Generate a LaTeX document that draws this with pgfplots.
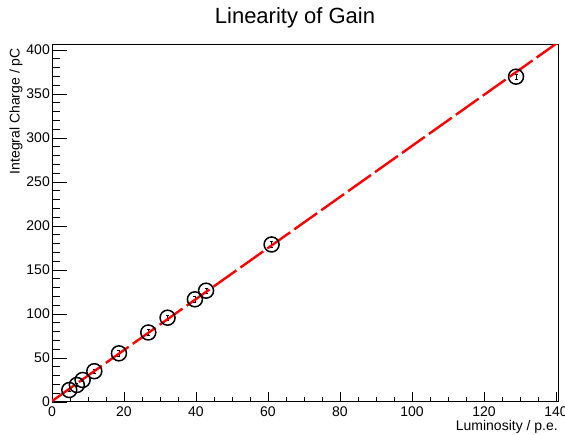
\documentclass[border=0pt]{standalone}
\usepackage{fontspec}
\setmainfont{Liberation Sans}
\usepackage{pgfplots}
\pgfplotsset{compat=1.18}

\pgfplotstableread{
x      y      ey
4.8    13.6   2.0
6.9    19.3   2.0
8.5    25.0   2.0
11.75  35.0   2.5
18.6   55.3   3.0
26.75  79.0   3.0
32.1   95.8   3.0
39.7   116.7  3.0
42.8   126.5  3.0
61.0   179.0  3.0
128.9  369.7  3.0
}\gaindata

\begin{document}
\begin{tikzpicture}[x=1pt,y=1pt]
\path[use as bounding box] (0,0) rectangle (565,435);
\begin{axis}[
    at={(52pt,33pt)}, anchor=south west,
    scale only axis,
    width=506.5pt, height=357pt,
    xmin=0, xmax=140.7,
    ymin=0, ymax=405.7,
    xtick={0,20,...,140},
    ytick={0,50,...,400},
    minor x tick num=3,
    minor y tick num=4,
    xtick pos=bottom, ytick pos=left,
    tick align=inside,
    axis line style={black, line width=1pt},
    every tick/.style={black, line width=0.8pt},
    xtick style={/pgfplots/major tick length=10pt, /pgfplots/minor tick length=5pt},
    ytick style={/pgfplots/major tick length=15pt, /pgfplots/minor tick length=8pt},
    ticklabel style={font=\fontsize{14}{16}\selectfont},
    /pgf/number format/assume math mode=true,
    yticklabel style={inner sep=1pt, xshift=-1pt},
    xticklabel style={inner sep=1pt, yshift=-4pt},
    clip=true,
]
\addplot[black, only marks, mark=o, mark size=7.5pt,
    mark options={line width=1.5pt},
    error bars/.cd, y dir=both, y explicit,
    error bar style={line width=0.8pt},
    error mark options={rotate=90, mark size=1.5pt, line width=0.8pt}]
    table[x=x, y=y, y error=ey] {\gaindata};
\addplot[red, line width=2.4pt, dash pattern=on 28pt off 5pt]
    coordinates {(0,1) (141,409.9)};
\end{axis}
\node[font=\fontsize{22}{24}\selectfont] at (295,417) {Linearity of Gain};
\node[font=\fontsize{14}{16}\selectfont, anchor=east, inner sep=0pt] at (558,8) {Luminosity / p.e.};
\node[font=\fontsize{14}{16}\selectfont, rotate=90, anchor=east, inner sep=0pt] at (16,387) {Integral Charge / pC};
\end{tikzpicture}
\end{document}
